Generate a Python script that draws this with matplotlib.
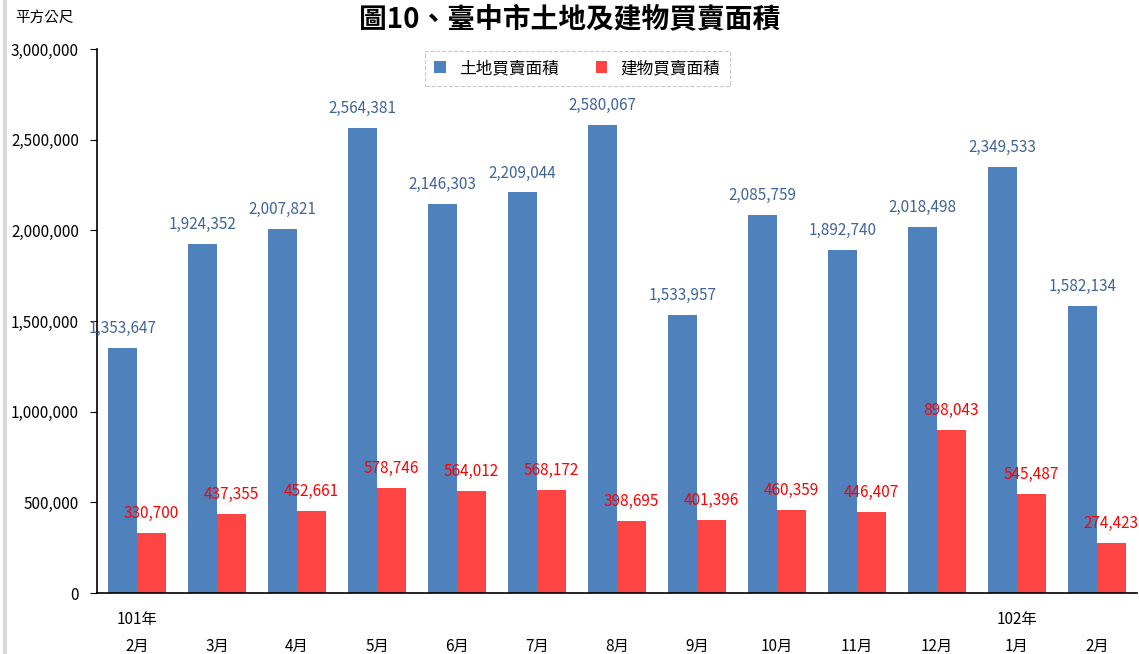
import matplotlib
matplotlib.use("Agg")
import matplotlib.pyplot as plt
from matplotlib.lines import Line2D
import numpy as np

plt.rcParams["font.family"] = ["Noto Sans CJK TC", "DejaVu Sans"]

months = ["2月", "3月", "4月", "5月", "6月", "7月", "8月", "9月", "10月", "11月", "12月", "1月", "2月"]
years = {0: "101年", 11: "102年"}
land = [1353647, 1924352, 2007821, 2564381, 2146303, 2209044, 2580067,
        1533957, 2085759, 1892740, 2018498, 2349533, 1582134]
building = [330700, 437355, 452661, 578746, 564012, 568172, 398695,
            401396, 460359, 446407, 898043, 545487, 274423]

blue = "#4F81BD"
red = "#FF4444"

fig = plt.figure(figsize=(11.39, 6.54), dpi=100)
ax = fig.add_axes([97 / 1139, 61 / 654, 1040 / 1139, 544 / 654])

x = np.arange(len(months))
w = 0.36
ax.bar(x - w / 2, land, width=w, color=blue, label="土地買賣面積")
ax.bar(x + w / 2, building, width=w, color=red, label="建物買賣面積")

for i in x:
    ax.text(i - w / 2, land[i] + 60000, f"{land[i]:,}", ha="center", va="bottom",
            fontsize=11, color="#3F6499")
    ax.text(i + w / 2, building[i] + 60000, f"{building[i]:,}", ha="center", va="bottom",
            fontsize=11, color="#FF0000")

ax.set_xlim(-0.5, len(months) - 0.5)
ax.set_ylim(0, 3000000)
ax.set_yticks(np.arange(0, 3000001, 500000))
ax.yaxis.set_major_formatter(matplotlib.ticker.FuncFormatter(lambda v, p: f"{int(v):,}"))
ax.tick_params(axis="y", labelsize=11, direction="out", length=5, pad=8)
ax.set_xticks(x)
ax.set_xticklabels(months, fontsize=11)
ax.tick_params(axis="x", length=0, pad=32)
for i, yr in years.items():
    ax.text(i, -0.033, yr, transform=ax.get_xaxis_transform(), ha="center", va="top", fontsize=11)

for s in ["top", "right"]:
    ax.spines[s].set_visible(False)
ax.spines["left"].set_linewidth(1.2)
ax.spines["bottom"].set_linewidth(1.2)

leg = ax.legend(loc="upper center", bbox_to_anchor=(0.462, 1.012), ncol=2, fontsize=12,
                frameon=True, fancybox=False, handlelength=0.7, handleheight=0.7,
                columnspacing=2.2, borderpad=0.55)
leg.get_frame().set_edgecolor("#BBBBBB")
leg.get_frame().set_linestyle("--")
leg.get_frame().set_linewidth(0.8)

fig.text(0.5, 0.97, "圖10、臺中市土地及建物買賣面積", ha="center", va="center",
         fontsize=20, fontweight="bold")
fig.text(15 / 1139, 1 - 18 / 654, "平方公尺", ha="left", va="center", fontsize=10.5)
fig.add_artist(Line2D([5 / 1139, 5 / 1139], [0, 1], transform=fig.transFigure,
                      color="#D9D9D9", linewidth=3))

fig.savefig("out.png", dpi=100)
